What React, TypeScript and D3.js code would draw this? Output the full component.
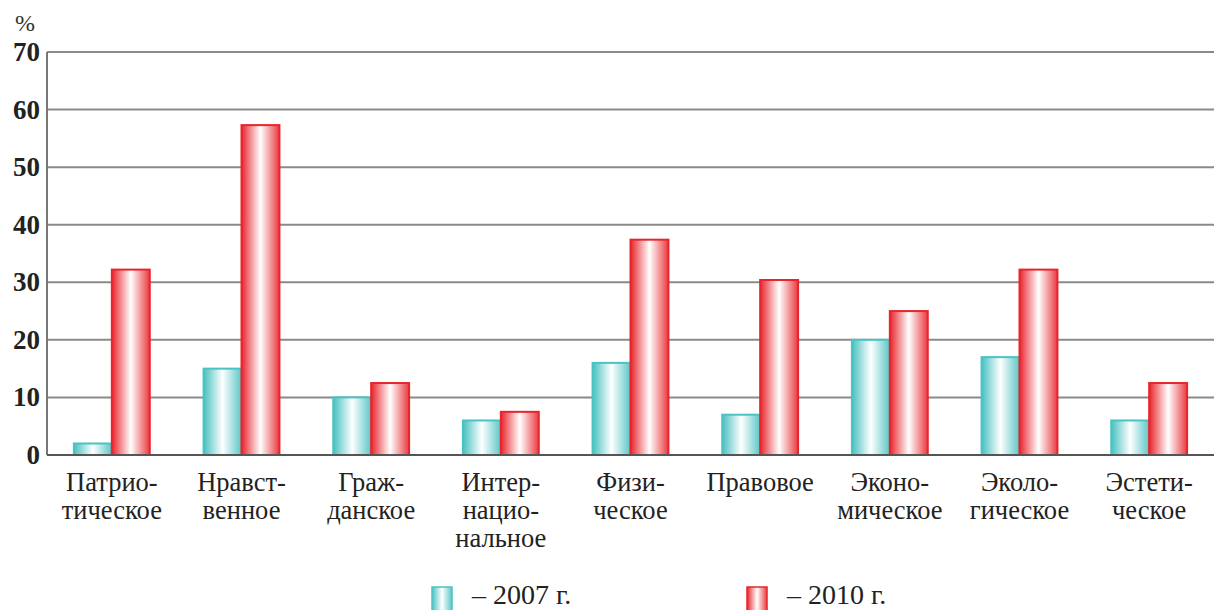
import React from "react";
import * as d3 from "d3";

const categories = [
  ["Патрио-", "тическое"],
  ["Нравст-", "венное"],
  ["Граж-", "данское"],
  ["Интер-", "нацио-", "нальное"],
  ["Физи-", "ческое"],
  ["Правовое"],
  ["Эконо-", "мическое"],
  ["Эколо-", "гическое"],
  ["Эстети-", "ческое"],
];
const values2007 = [2, 15, 10, 6, 16, 7, 20, 17, 6];
const values2010 = [32.2, 57.3, 12.5, 7.5, 37.4, 30.4, 25, 32.2, 12.5];
const yTicks = [0, 10, 20, 30, 40, 50, 60, 70];
const seriesNames = ["– 2007 г.", "– 2010 г."];

const W = 1214;
const H = 610;
const left = 47;
const right = 1214;
const top = 52;
const bottom = 455;
const SERIF = "Liberation Serif";

export default function App() {
  const x = d3
    .scaleBand<number>()
    .domain(categories.map((_, i) => i))
    .range([left, right])
    .paddingInner(0.415)
    .paddingOuter(0.2075);
  const sub = d3.scaleBand<number>().domain([0, 1]).range([0, x.bandwidth()]);
  const y = d3.scaleLinear().domain([0, 70]).range([bottom, top]);

  const series = [
    { vals: values2007, fill: "url(#gCyan)", stroke: "#4cc3c3" },
    { vals: values2010, fill: "url(#gRed)", stroke: "#e8242c" },
  ];

  return (
    <svg
      width={W}
      height={H}
      fontFamily={SERIF}
      style={{ position: "absolute", left: 0, top: 0, background: "#fff" }}
    >
      <defs>
        <linearGradient id="gCyan" x1="0" x2="1" y1="0" y2="0">
          <stop offset="0" stopColor="#47c0c0" />
          <stop offset="0.5" stopColor="#ffffff" />
          <stop offset="1" stopColor="#5cc6c6" />
        </linearGradient>
        <linearGradient id="gRed" x1="0" x2="1" y1="0" y2="0">
          <stop offset="0" stopColor="#e8242c" />
          <stop offset="0.5" stopColor="#ffffff" />
          <stop offset="1" stopColor="#ea3a40" />
        </linearGradient>
      </defs>
      <text x={15} y={31} fontSize={24} fill="#333">
        %
      </text>
      {yTicks.map((t) => (
        <g key={t}>
          {t > 0 && (
            <line
              x1={left}
              x2={right}
              y1={y(t)}
              y2={y(t)}
              stroke="#8a8a8a"
              strokeWidth={2}
            />
          )}
          <text x={40} y={y(t) + 9} textAnchor="end" fontSize={27} fontWeight="bold" fill="#222">
            {t}
          </text>
        </g>
      ))}
      <line x1={left} x2={left} y1={top} y2={bottom} stroke="#777" strokeWidth={2} />
      {series.map((s, si) =>
        s.vals.map((v, i) => (
          <rect
            key={si + "-" + i}
            x={(x(i) as number) + (sub(si) as number)}
            y={y(v)}
            width={sub.bandwidth()}
            height={bottom - y(v)}
            fill={s.fill}
            stroke={s.stroke}
            strokeWidth={2}
          />
        ))
      )}
      <line x1={left} x2={right} y1={bottom} y2={bottom} stroke="#555" strokeWidth={2} />
      {categories.map((lines, i) => {
        const cx = (x(i) as number) + x.bandwidth() / 2;
        return (
          <text key={i} x={cx} y={491} textAnchor="middle" fontSize={26.5} fill="#222">
            {lines.map((l, j) => (
              <tspan key={j} x={cx} dy={j === 0 ? 0 : 28}>
                {l}
              </tspan>
            ))}
          </text>
        );
      })}
      {seriesNames.map((n, i) => {
        const lx = i === 0 ? 432 : 747;
        return (
          <g key={n}>
            <rect
              x={lx}
              y={587}
              width={20}
              height={26}
              fill={i === 0 ? "url(#gCyan)" : "url(#gRed)"}
              stroke={series[i].stroke}
              strokeWidth={1.5}
            />
            <text x={lx + 40} y={604} fontSize={28} fill="#222">
              {n}
            </text>
          </g>
        );
      })}
    </svg>
  );
}
